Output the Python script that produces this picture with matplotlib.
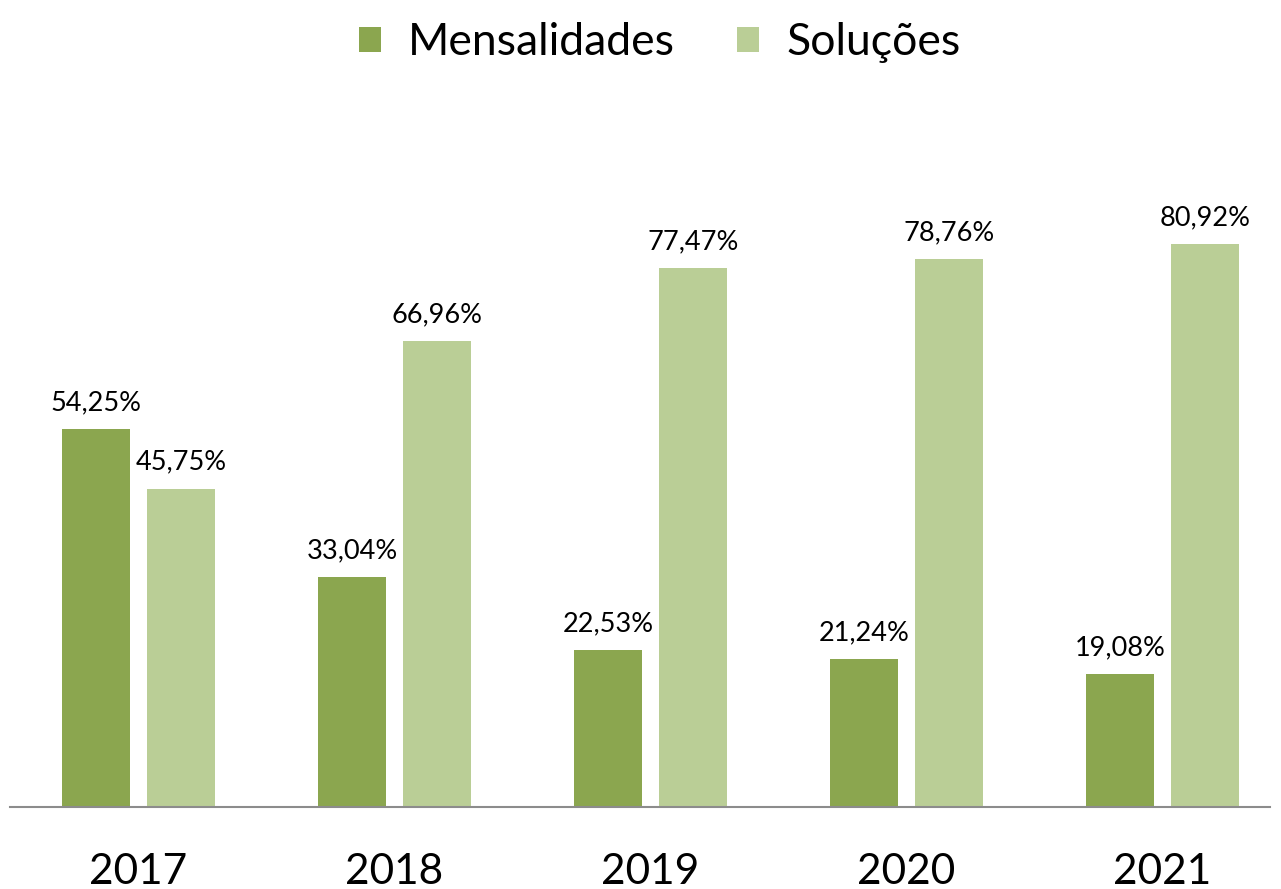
import numpy as np
import matplotlib
matplotlib.use("Agg")
import matplotlib.pyplot as plt

plt.rcParams['font.family'] = ['Lato', 'DejaVu Sans']

# data
years = ['2017', '2018', '2019', '2020', '2021']
mensalidades = [54.25, 33.04, 22.53, 21.24, 19.08]
solucoes = [45.75, 66.96, 77.47, 78.76, 80.92]

c_dark = '#8BA64F'
c_light = '#BACE96'

fig = plt.figure(figsize=(12.81, 8.89), dpi=100)
ax = fig.add_axes([10 / 1281, (889 - 807) / 889, 1260 / 1281, 696 / 889])

x = np.arange(len(years))
w = 0.266
off = 0.166
b1 = ax.bar(x - off, mensalidades, w, color=c_dark, label='Mensalidades')
b2 = ax.bar(x + off, solucoes, w, color=c_light, label='Soluções')

for bars, vals in ((b1, mensalidades), (b2, solucoes)):
    for b, v in zip(bars, vals):
        ax.annotate(f'{v:.2f}%'.replace('.', ','),
                    (b.get_x() + b.get_width() / 2, v),
                    xytext=(0, 10), textcoords='offset points',
                    ha='center', va='bottom', fontsize=19.5)

ax.set_xlim(-0.502, 4.42)
ax.set_ylim(0, 100)
ax.set_xticks(x)
ax.set_xticklabels(years, fontsize=30.5)
ax.tick_params(axis='x', length=0, pad=33)
ax.set_yticks([])
for s in ['top', 'right', 'left']:
    ax.spines[s].set_visible(False)
ax.spines['bottom'].set_color('#8C8C8C')
ax.spines['bottom'].set_linewidth(1.5)

fig.legend(handles=[b1, b2], loc='upper center', bbox_to_anchor=(0.515, 1.02),
           ncol=2, frameon=False, fontsize=32, handlelength=0.5,
           handleheight=0.5, handletextpad=0.6, columnspacing=1.4)

fig.savefig('out.png', dpi=100)
